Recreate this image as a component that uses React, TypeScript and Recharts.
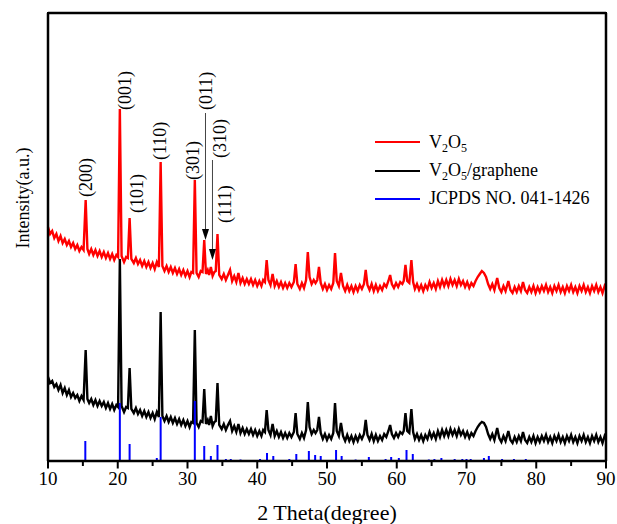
import React from "react";
import { LineChart, Line, XAxis, YAxis, Legend, ReferenceDot, ReferenceLine } from "recharts";

// 2θ positions of the digitised scans (deg)
const twoTheta = [
  10.0, 10.3, 10.6, 10.9, 11.2, 11.5, 11.8, 12.1, 12.4, 12.7,
  13.0, 13.3, 13.6, 13.9, 14.2, 14.5, 14.8, 15.1, 15.4, 15.65,
  15.9, 16.2, 16.5, 16.8, 17.1, 17.4, 17.7, 18.0, 18.3, 18.6,
  18.9, 19.2, 19.5, 19.8, 20.05, 20.3, 20.55, 20.9, 21.2, 21.45,
  21.7, 21.95, 22.3, 22.6, 22.9, 23.2, 23.5, 23.8, 24.1, 24.4,
  24.7, 25.0, 25.3, 25.6, 25.9, 26.15, 26.4, 26.7, 27.0, 27.3,
  27.6, 27.9, 28.2, 28.5, 28.8, 29.1, 29.4, 29.7, 30.0, 30.3,
  30.55, 30.8, 31.05, 31.3, 31.6, 31.9, 32.15, 32.4, 32.65, 32.9,
  33.1, 33.35, 33.6, 33.85, 34.05, 34.3, 34.55, 34.9, 35.2, 35.5,
  35.8, 36.1, 36.4, 36.7, 37.0, 37.3, 37.6, 37.9, 38.2, 38.5,
  38.8, 39.1, 39.4, 39.7, 40.0, 40.3, 40.6, 40.85, 41.1, 41.35,
  41.6, 41.9, 42.2, 42.5, 42.8, 43.1, 43.4, 43.7, 44.0, 44.3,
  44.6, 44.9, 45.25, 45.5, 45.75, 46.1, 46.4, 46.7, 47.0, 47.25,
  47.5, 47.8, 48.1, 48.35, 48.6, 48.85, 49.1, 49.4, 49.7, 50.0,
  50.3, 50.6, 50.9, 51.15, 51.4, 51.7, 52.0, 52.3, 52.6, 52.9,
  53.2, 53.5, 53.8, 54.1, 54.4, 54.7, 55.0, 55.3, 55.55, 55.8,
  56.1, 56.4, 56.7, 57.0, 57.3, 57.6, 57.9, 58.2, 58.5, 58.8,
  59.05, 59.3, 59.6, 59.9, 60.2, 60.5, 60.8, 61.0, 61.25, 61.5,
  61.8, 62.1, 62.35, 62.6, 62.9, 63.2, 63.5, 63.8, 64.1, 64.4,
  64.7, 65.0, 65.3, 65.6, 65.9, 66.2, 66.5, 66.8, 67.1, 67.4,
  67.7, 68.0, 68.3, 68.6, 68.9, 69.2, 69.5, 69.8, 70.1, 70.4,
  70.7, 71.0, 71.3, 71.6, 71.9, 72.2, 72.5, 72.8, 73.1, 73.4,
  73.7, 74.0, 74.4, 74.7, 75.0, 75.3, 75.6, 76.0, 76.3, 76.6,
  76.9, 77.2, 77.5, 77.8, 78.1, 78.4, 78.7, 79.0, 79.3, 79.6,
  79.9, 80.2, 80.5, 80.8, 81.1, 81.4, 81.7, 82.0, 82.3, 82.6,
  82.9, 83.2, 83.5, 83.8, 84.1, 84.4, 84.7, 85.0, 85.3, 85.6,
  85.9, 86.2, 86.5, 86.8, 87.1, 87.4, 87.7, 88.0, 88.3, 88.6,
  88.9, 89.2, 89.5, 89.8, 90.0,
];

// V2O5 (offset upper trace), a.u.
const v2o5 = [
  234, 227, 230, 223, 227, 220, 225, 218, 222, 216,
  220, 214, 218, 212, 216, 210, 214, 211, 261, 212,
  207, 212, 206, 211, 205, 210, 204, 209, 203, 208,
  202, 207, 201, 206, 204, 352, 205, 199, 204, 203,
  243, 202, 198, 203, 197, 201, 195, 200, 194, 199,
  193, 198, 192, 199, 194, 299, 195, 190, 195, 189,
  194, 188, 193, 187, 192, 186, 191, 185, 190, 184,
  189, 188, 281, 188, 184, 190, 189, 221, 187, 191,
  186, 194, 185, 189, 190, 227, 186, 182, 187, 181,
  186, 191, 180, 185, 179, 188, 178, 183, 177, 182,
  177, 182, 176, 181, 175, 180, 175, 181, 179, 201,
  181, 176, 187, 175, 180, 174, 179, 173, 178, 173,
  178, 174, 179, 197, 177, 172, 178, 173, 181, 209,
  184, 177, 181, 178, 181, 194, 178, 172, 177, 171,
  176, 172, 178, 208, 180, 175, 188, 175, 170, 176,
  170, 175, 169, 175, 170, 176, 172, 177, 191, 176,
  171, 177, 170, 176, 170, 175, 171, 177, 174, 180,
  186, 177, 173, 178, 174, 179, 177, 180, 196, 180,
  178, 201, 179, 172, 177, 171, 176, 170, 176, 172,
  179, 173, 178, 172, 180, 174, 181, 175, 181, 175,
  182, 176, 181, 175, 182, 176, 180, 174, 179, 173,
  178, 175, 180, 184, 187, 190, 188, 184, 177, 172,
  177, 171, 183, 173, 169, 175, 170, 180, 171, 168,
  174, 169, 175, 170, 179, 171, 168, 174, 169, 175,
  168, 174, 169, 175, 170, 176, 169, 174, 168, 175,
  170, 176, 169, 174, 168, 175, 170, 176, 169, 174,
  168, 175, 170, 176, 169, 174, 168, 175, 170, 176,
  169, 174, 168, 175, 172,
];

// V2O5/graphene (lower trace), a.u.
const v2o5Graphene = [
  84, 78, 80, 74, 77, 71, 76, 68, 73, 66,
  71, 64, 68, 63, 66, 60, 65, 61, 111, 62,
  58, 62, 56, 61, 55, 60, 55, 59, 53, 58,
  52, 57, 51, 56, 54, 202, 55, 49, 54, 53,
  93, 52, 48, 53, 47, 51, 45, 50, 44, 49,
  43, 48, 42, 49, 44, 149, 45, 40, 45, 39,
  44, 38, 43, 37, 42, 36, 41, 35, 40, 34,
  39, 38, 131, 38, 34, 40, 39, 72, 37, 41,
  36, 45, 35, 39, 40, 78, 36, 32, 37, 31,
  36, 40, 30, 35, 29, 37, 28, 33, 27, 32,
  27, 32, 26, 31, 25, 30, 25, 31, 29, 51,
  31, 26, 37, 25, 30, 24, 29, 23, 28, 23,
  28, 24, 29, 48, 27, 22, 28, 23, 31, 59,
  34, 27, 31, 28, 31, 44, 28, 22, 27, 21,
  26, 22, 28, 58, 30, 25, 38, 25, 20, 26,
  20, 25, 19, 25, 20, 26, 22, 27, 41, 26,
  21, 27, 20, 26, 20, 25, 21, 27, 24, 30,
  36, 27, 23, 28, 24, 29, 27, 30, 48, 30,
  28, 52, 29, 22, 27, 21, 26, 20, 26, 22,
  29, 23, 28, 22, 30, 24, 31, 25, 31, 25,
  32, 26, 31, 25, 32, 26, 30, 24, 29, 23,
  28, 25, 30, 34, 37, 39, 38, 34, 27, 22,
  27, 21, 33, 23, 19, 25, 20, 30, 21, 18,
  24, 19, 25, 20, 29, 21, 18, 24, 19, 25,
  18, 24, 19, 25, 20, 26, 19, 24, 18, 25,
  20, 26, 19, 24, 18, 25, 20, 26, 19, 24,
  18, 25, 20, 26, 19, 24, 18, 25, 20, 26,
  19, 24, 18, 25, 22,
];

// JCPDS No. 041-1426 reference lines
const jcpdsAngles = [
  15.35, 20.3, 21.7, 25.6, 26.15, 31.05, 32.4, 33.35, 34.3, 35.5,
  36.2, 37.6, 40.4, 41.4, 42.3, 44.6, 45.6, 47.4, 48.3, 49.1,
  51.3, 52.1, 54.1, 56.0, 58.4, 59.2, 60.3, 61.4, 62.3, 64.6,
  65.4, 66.4, 68.3, 69.4, 70.0, 70.6, 72.5, 73.2, 75.1, 76.8, 78.5,
];
const jcpdsHeights = [
  20, 58, 17, 3, 44, 60, 15, 5, 16, 2,
  2, 1.5, 2, 8, 5, 2, 7, 10, 6, 5,
  11, 5, 1.5, 4, 2, 4, 3, 11, 7, 1.5,
  2, 3, 2, 2, 2, 2, 3, 5, 2, 2, 2,
];

const xTicks = [10, 15, 20, 25, 30, 35, 40, 45, 50, 55, 60, 65, 70, 75, 80, 85, 90];
const X_MIN = 10;
const X_MAX = 90;
const Y_MAX = 448;

// (hkl) annotations: angle of the label centre, intensity at the label foot
const hklNames = ["(200)", "(001)", "(101)", "(110)", "(301)", "(011)", "(310)", "(111)"];
const hklAngles = [15.4, 21.0, 22.7, 26.1, 30.75, 32.6, 34.65, 35.4];
const hklFeet = [264, 351, 248, 301, 281, 351, 303, 238];

// arrows from (011) and (310) down to their peaks
const arrowAngles = [32.58, 33.58];
const arrowTops = [348, 301];
const arrowTips = [221, 201];

const seriesOrder = ["V2O5", "V2O5/graphene", "JCPDS NO. 041-1426"];

const FONT = "'Liberation Serif', 'Times New Roman', serif";

const redData = twoTheta.map((x, i) => ({ x, y: v2o5[i] }));
const blackData = twoTheta.map((x, i) => ({ x, y: v2o5Graphene[i] }));
const stickData = jcpdsAngles.flatMap((x, i) => [
  { x, y: 0 },
  { x, y: jcpdsHeights[i] },
  { x, y: null },
]);

const Sub = ({ children }: { children: React.ReactNode }) => (
  <span style={{ fontSize: 12, position: "relative", top: 4 }}>{children}</span>
);

const legendLabels: Record<string, React.ReactNode> = {
  V2O5: (
    <>
      V<Sub>2</Sub>O<Sub>5</Sub>
    </>
  ),
  "V2O5/graphene": (
    <>
      V<Sub>2</Sub>O<Sub>5</Sub>/graphene
    </>
  ),
};

const renderLegend = (props: any) => {
  const payload = [...(props.payload || [])].sort(
    (a: any, b: any) => seriesOrder.indexOf(a.value) - seriesOrder.indexOf(b.value)
  );
  return (
    <div style={{ fontFamily: FONT, fontSize: 18, color: "#000" }}>
      {payload.map((entry: any) => (
        <div key={entry.value} style={{ display: "flex", alignItems: "center", height: 28.4 }}>
          <svg width={45} height={4} style={{ marginRight: 9 }}>
            <line x1={0} y1={2} x2={45} y2={2} stroke={entry.color} strokeWidth={2} />
          </svg>
          <span style={{ whiteSpace: "nowrap" }}>{legendLabels[entry.value] ?? entry.value}</span>
        </div>
      ))}
    </div>
  );
};

const YTitle = () => (
  <text
    x={22.5}
    y={198}
    transform="rotate(-90 22.5 198)"
    textAnchor="middle"
    dominantBaseline="central"
    fontFamily={FONT}
    fontSize={18}
    fill="#000"
  >
    Intensity(a.u.)
  </text>
);

// labels only on the 10° ticks
const XTick = (p: any) => {
  const v = p.payload.value;
  if (v % 10 !== 0) return <g />;
  return (
    <text x={p.x} y={p.y} dy="0.71em" textAnchor="middle" fill="#000" fontFamily={FONT} fontSize={19}>
      {v}
    </text>
  );
};

// outward tick mark hanging below the axis, long on 10°, short on 5°
const tickMark = (major: boolean) => (p: any) => (
  <line x1={p.cx} x2={p.cx} y1={p.cy} y2={p.cy + (major ? 7.5 : 5)} stroke="#000" strokeWidth={2} />
);

const hklShape = (text: string) => (p: any) => (
  <text
    x={p.cx}
    y={p.cy}
    transform={`rotate(-90 ${p.cx} ${p.cy})`}
    textAnchor="start"
    dominantBaseline="central"
    fontFamily={FONT}
    fontSize={18}
    fill="#000"
  >
    {text}
  </text>
);

const arrowHead = (p: any) => (
  <path d={`M${p.cx},${p.cy} L${p.cx - 3.5},${p.cy - 11} L${p.cx + 3.5},${p.cy - 11} Z`} fill="#000" />
);

const frame = { stroke: "#000", strokeWidth: 2.5 };

export default function App() {
  return (
    <div style={{ position: "absolute", left: 0, top: 0, width: 617, height: 524, background: "#fff" }}>
      <LineChart
        width={617}
        height={524}
        margin={{ top: 13, right: 11, bottom: 0, left: 0 }}
        style={{ fontFamily: FONT }}
      >
        <XAxis
          type="number"
          dataKey="x"
          domain={[X_MIN, X_MAX]}
          ticks={xTicks}
          interval={0}
          height={63}
          tickSize={6}
          tickMargin={5}
          stroke="#000"
          axisLine={frame}
          tickLine={{ stroke: "none" }}
          tick={<XTick />}
          label={{
            value: "2 Theta(degree)",
            position: "insideBottom",
            offset: 4.5,
            fill: "#000",
            fontSize: 22,
            fontFamily: FONT,
          }}
        />
        <YAxis
          type="number"
          domain={[0, Y_MAX]}
          width={48}
          stroke="#000"
          tick={false}
          tickLine={false}
          axisLine={frame}
          label={<YTitle />}
        />
        <Legend
          layout="vertical"
          align="center"
          verticalAlign="middle"
          content={renderLegend}
          wrapperStyle={{ left: 375, top: 128, width: 240 }}
        />
        <Line
          data={redData}
          dataKey="y"
          name="V2O5"
          stroke="#ff0000"
          strokeWidth={2.4}
          dot={false}
          isAnimationActive={false}
        />
        <Line
          data={blackData}
          dataKey="y"
          name="V2O5/graphene"
          stroke="#000000"
          strokeWidth={2.4}
          dot={false}
          isAnimationActive={false}
        />
        <Line
          data={stickData}
          dataKey="y"
          name="JCPDS NO. 041-1426"
          stroke="#0000ff"
          strokeWidth={2}
          dot={false}
          connectNulls={false}
          isAnimationActive={false}
        />
        <ReferenceLine
          key="frame-top"
          segment={[
            { x: X_MIN + 0.001, y: Y_MAX - 0.001 },
            { x: X_MAX - 0.001, y: Y_MAX - 0.001 },
          ]}
          stroke="#000"
          strokeWidth={2.5}
        />
        <ReferenceLine
          key="frame-right"
          segment={[
            { x: X_MAX - 0.001, y: 0.001 },
            { x: X_MAX - 0.001, y: Y_MAX - 0.001 },
          ]}
          stroke="#000"
          strokeWidth={2.5}
        />
        {xTicks.map((t) => (
          <ReferenceDot
            key={`tick-${t}`}
            x={t === X_MIN ? t + 0.001 : t === X_MAX ? t - 0.001 : t}
            y={0.001}
            r={1}
            shape={tickMark(t % 10 === 0)}
          />
        ))}
        {arrowAngles.map((a, i) => (
          <ReferenceLine
            key={`shaft-${i}`}
            segment={[
              { x: a, y: arrowTops[i] },
              { x: a, y: arrowTips[i] + 8 },
            ]}
            stroke="#444"
            strokeWidth={1}
          />
        ))}
        {arrowAngles.map((a, i) => (
          <ReferenceDot key={`head-${i}`} x={a} y={arrowTips[i]} r={1} shape={arrowHead} />
        ))}
        {hklNames.map((name, i) => (
          <ReferenceDot key={name} x={hklAngles[i]} y={hklFeet[i]} r={1} shape={hklShape(name)} />
        ))}
      </LineChart>
      {/* closes the box on the top and right sides of the plot area */}
      <div
        style={{
          position: "absolute",
          left: 46.75,
          top: 11.75,
          width: 560.5,
          height: 450.5,
          boxSizing: "border-box",
          borderTop: "2.5px solid #000",
          borderRight: "2.5px solid #000",
          pointerEvents: "none",
        }}
      />
    </div>
  );
}
